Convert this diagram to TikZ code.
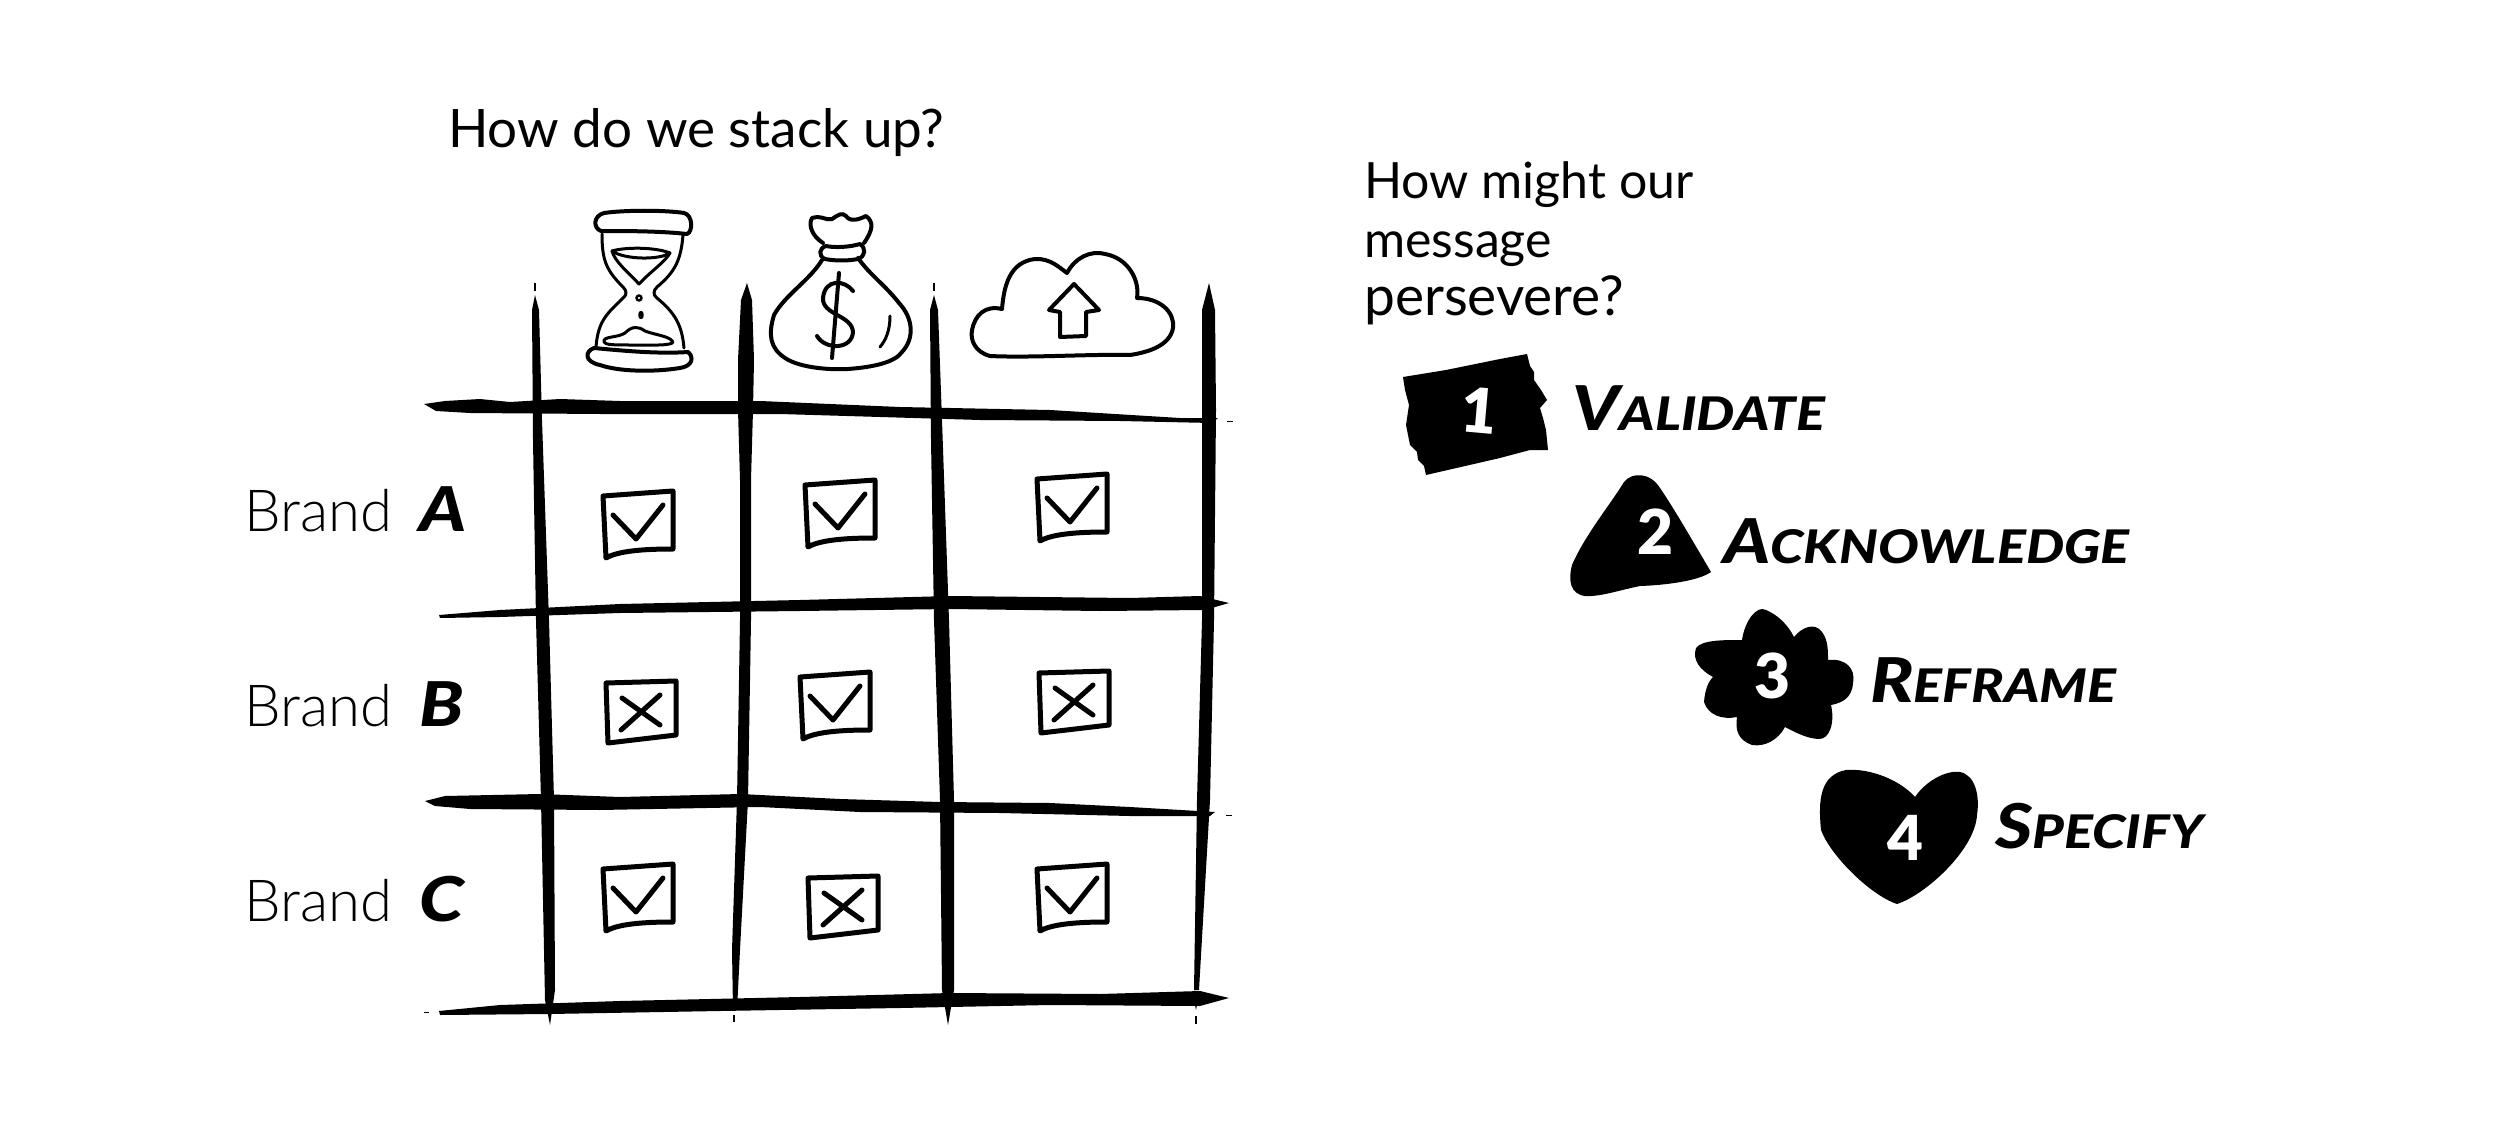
\documentclass[tikz,border=0pt]{standalone}
\usepackage{graphicx}
\usepackage{fontspec}
\setmainfont{Lato}
\newfontfamily\thinfont{Lato Light}
\newfontfamily\brushfont{Lato Black Italic}
\newfontfamily\numfont{Lato Black}
\newcommand{\brushcaps}[2]{\scalebox{1.2}[1.03]{\brushfont\fontsize{60}{60}\selectfont #1\fontsize{45}{45}\selectfont #2}}
\tikzset{
  ink/.style={fill=black,draw=none},
  iconline/.style={draw=black,line width=4pt,line cap=round,line join=round},
  boxline/.style={draw=black,line width=5pt,line cap=round,line join=round},
  heading/.style={anchor=base west,inner sep=0pt,font=\fontsize{50}{50}\selectfont},
  brandtext/.style={anchor=base west,inner sep=0pt,font=\thinfont\fontsize{58}{58}\selectfont},
  brushtext/.style={anchor=base west,inner sep=0pt},
  numtext/.style={text=white,inner sep=0pt,font=\numfont\fontsize{62}{62}\selectfont},
  tickbox/.pic={
    \draw[boxline] (0,5) -- (70,0) -- (70,58) .. controls (40,58) and (15,60) .. (3,67) -- cycle;
    \draw[boxline] (10,24) -- (33,48) -- (60,14);
  },
  crossbox/.pic={
    \draw[boxline] (0,2) -- (70,0) -- (70,54) -- (2,62) -- cycle;
    \draw[boxline] (15,49) -- (54,14) (16,17) -- (54,44);
  }
}
\begin{document}
\begin{tikzpicture}[x=1pt,y=-1pt]
\useasboundingbox (0,0) rectangle (2500,1126);
\fill[white] (0,0) rectangle (2500,1126);

% vertical brush lines
\fill[ink] (534,283) rectangle (536,291);
\fill[ink] (535,295) -- (539,310) -- (542,420) -- (549,620) -- (554,800) -- (555,990) -- (550,1025) -- (545,1000) -- (541,800) -- (536,620) -- (533,440) -- (532,310) -- cycle;
\fill[ink] (747,283) -- (752,300) -- (754,360) -- (753,410) -- (751,480) -- (751,620) -- (748,800) -- (740,950) -- (737,1010) -- (733,1010) -- (732,950) -- (737,800) -- (740,620) -- (740,480) -- (738,410) -- (738,360) -- (741,300) -- cycle;
\fill[ink] (733,1015) rectangle (735,1022);
\fill[ink] (933,283) rectangle (935,291);
\fill[ink] (934,295) -- (938,310) -- (942,420) -- (949,620) -- (954,800) -- (954,990) -- (948,1025) -- (942,990) -- (940,800) -- (934,620) -- (931,440) -- (930,310) -- cycle;
\fill[ink] (1209,283) -- (1215,310) -- (1216,410) -- (1214,620) -- (1210,800) -- (1199,990) -- (1194,990) -- (1197,800) -- (1202,620) -- (1202,410) -- (1202,310) -- cycle;
\fill[ink] (1195,990) -- (1198,1000) -- (1196,1010) -- (1194,1000) -- cycle;
\fill[ink] (1195,1016) rectangle (1197,1024);

% horizontal brush lines
\fill[ink] (424,404) -- (445,401) -- (480,399) -- (510,402) -- (560,399) -- (620,401) -- (760,401) -- (900,407) -- (1050,410) -- (1180,418) -- (1218,418) -- (1212,423) -- (1120,421) -- (980,420) -- (780,414) -- (600,414) -- (470,413) -- (436,411) -- cycle;
\fill[ink] (1227,421) rectangle (1233,422);
\fill[ink] (439,615) -- (500,610) -- (620,604) -- (800,600) -- (950,596) -- (1130,598) -- (1200,596) -- (1229,603) -- (1205,610) -- (1100,611) -- (950,609) -- (800,611) -- (620,613) -- (500,617) -- (440,618) -- cycle;
\fill[ink] (425,801) -- (445,796) -- (540,794) -- (620,797) -- (740,794) -- (840,799) -- (940,802) -- (1050,803) -- (1130,807) -- (1215,812) -- (1210,816) -- (1130,816) -- (1000,813) -- (860,812) -- (760,807) -- (600,810) -- (470,809) -- (435,806) -- cycle;
\fill[ink] (1226,815) rectangle (1232,816);
\fill[ink] (439,1011) -- (500,1005) -- (620,1001) -- (800,997) -- (950,993) -- (1100,994) -- (1200,991) -- (1229,998) -- (1200,1006) -- (1050,1005) -- (900,1008) -- (720,1011) -- (550,1014) -- (440,1015) -- cycle;
\fill[ink] (424,1012) rectangle (429,1013);

% hourglass
\draw[iconline] (604,213) .. controls (625,210) and (665,210) .. (684,213) .. controls (693,215) and (693,232) .. (687,234) .. controls (660,231) and (625,231) .. (601,231) .. controls (593,228) and (593,216) .. (604,213) -- cycle;
\draw[iconline] (594,348) .. controls (625,351) and (660,354) .. (688,352) .. controls (694,357) and (693,366) .. (680,368) .. controls (655,372) and (620,372) .. (600,365) .. controls (585,362) and (584,352) .. (594,348) -- cycle;
\draw[iconline,line width=3pt] (602,234) .. controls (602,260) and (606,270) .. (623,287) .. controls (627,291) and (627,295) .. (623,298) .. controls (608,313) and (598,320) .. (596,347);
\draw[iconline,line width=3pt] (683,235) .. controls (681,260) and (675,272) .. (657,287) .. controls (653,291) and (653,295) .. (657,298) .. controls (675,313) and (682,325) .. (684,348);
\draw[iconline,line width=3pt] (612,251) .. controls (625,247) and (655,247) .. (670,253) .. controls (660,260) and (625,260) .. (612,251) -- cycle;
\draw[iconline,line width=3pt] (612,251) .. controls (615,262) and (628,272) .. (639,284) .. controls (650,272) and (665,262) .. (670,253);
\draw[iconline,line width=2.5pt] (639,298) circle[x radius=2.5,y radius=2.5];
\draw[iconline,line width=2.5pt] (641,315) circle[x radius=1.5,y radius=3];
\draw[iconline,line width=3pt] (604,342) .. controls (602,336) and (618,338) .. (625,333) .. controls (632,326) and (638,326) .. (645,331) .. controls (655,335) and (670,336) .. (673,342) .. controls (672,346) and (650,345) .. (630,345) .. controls (615,345) and (605,345) .. (604,342) -- cycle;

% money bag
\draw[iconline] (823,243) .. controls (812,236) and (808,225) .. (812,218) .. controls (822,215) and (826,221) .. (832,219) .. controls (838,215) and (842,212) .. (846,216) .. controls (850,222) and (858,220) .. (866,216) .. controls (874,222) and (873,230) .. (864,243);
\draw[iconline] (826,246) .. controls (835,248) and (850,247) .. (860,244) .. controls (866,248) and (866,256) .. (858,259) .. controls (848,261) and (835,261) .. (825,259) .. controls (818,256) and (819,248) .. (826,246) -- cycle;
\draw[iconline] (822,260) .. controls (810,280) and (785,295) .. (774,315) .. controls (768,335) and (770,348) .. (785,358) .. controls (800,368) and (830,370) .. (848,369) .. controls (875,367) and (895,362) .. (902,352) .. controls (915,338) and (913,318) .. (899,303) .. controls (885,285) and (870,275) .. (858,258);
\draw[iconline] (853,291) .. controls (845,280) and (825,278) .. (823,298) .. controls (822,315) and (852,315) .. (853,332) .. controls (852,350) and (825,350) .. (817,336);
\draw[iconline] (839,273) -- (832,358);
\draw[iconline,line width=3pt] (890,316) .. controls (890,330) and (886,340) .. (880,347);

% cloud
\draw[iconline] (990,356) .. controls (975,352) and (970,340) .. (972,330) .. controls (975,315) and (985,305) .. (1002,309) .. controls (1004,285) and (1010,262) .. (1035,259) .. controls (1050,258) and (1060,268) .. (1067,273) .. controls (1075,258) and (1090,250) .. (1105,254) .. controls (1128,258) and (1140,280) .. (1137,298) .. controls (1160,298) and (1175,312) .. (1173,328) .. controls (1170,345) and (1150,352) .. (1130,355) .. controls (1090,354) and (1030,358) .. (990,356) -- cycle;
\draw[iconline] (1074,284) -- (1099,310) -- (1086,312) -- (1086,336) -- (1060,337) -- (1060,312) -- (1049,310) -- cycle;

% check boxes
\pic at (603,491) {tickbox};
\pic at (805,480) {tickbox};
\pic at (1037,474) {tickbox};
\pic at (606,681) {crossbox};
\pic at (800,672) {tickbox};
\pic at (1039,671) {crossbox};
\pic at (603,864) {tickbox};
\pic at (808,876) {crossbox};
\pic at (1037,864) {tickbox};

% blobs
\fill[ink] (1403,377) -- (1446,370) -- (1500,359) -- (1527,354) -- (1530,366) -- (1534,372) -- (1534,380) -- (1541,390) -- (1547,400) -- (1540,408) -- (1543,418) -- (1546,430) -- (1548,450) -- (1530,450) -- (1500,458) -- (1426,475) -- (1424,466) -- (1418,460) -- (1417,452) -- (1410,445) -- (1406,425) -- (1409,405) -- (1405,390) -- cycle;
\fill[ink] (1624,482) .. controls (1632,472) and (1650,472) .. (1660,488) .. controls (1675,510) and (1695,545) .. (1711,572) .. controls (1700,580) and (1670,585) .. (1640,586) .. controls (1620,590) and (1600,597) .. (1585,596) .. controls (1570,594) and (1568,580) .. (1572,565) .. controls (1585,535) and (1610,505) .. (1624,482) -- cycle;
\fill[ink] (1742,640) .. controls (1745,620) and (1757,605) .. (1766,610) .. controls (1778,615) and (1788,625) .. (1794,637) .. controls (1802,627) and (1815,622) .. (1822,632) .. controls (1828,640) and (1828,650) .. (1828,660) .. controls (1845,658) and (1856,668) .. (1853,683) .. controls (1852,698) and (1842,703) .. (1831,705) .. controls (1835,722) and (1830,740) .. (1818,739) .. controls (1805,738) and (1795,732) .. (1785,727) .. controls (1778,740) and (1765,747) .. (1752,745) .. controls (1738,740) and (1735,730) .. (1737,717) .. controls (1722,720) and (1708,715) .. (1704,702) .. controls (1705,690) and (1708,682) .. (1713,677) .. controls (1700,670) and (1692,660) .. (1696,648) .. controls (1702,640) and (1722,640) .. (1742,640) -- cycle;
\fill[ink] (1915,797) .. controls (1925,782) and (1945,770) .. (1960,772) .. controls (1975,775) and (1980,795) .. (1977,815) .. controls (1975,850) and (1925,895) .. (1897,904) .. controls (1870,895) and (1830,855) .. (1821,830) .. controls (1818,800) and (1820,775) .. (1846,770) .. controls (1870,768) and (1900,780) .. (1915,797) -- cycle;
\node[numtext,rotate=-5] (n1) at (1479,411) {1};
\node[numtext] (n2) at (1655,532) {2};
\node[numtext] (n3) at (1772,676) {3};
\node[numtext] (n4) at (1905,838) {4};

% texts
\node[heading,font=\fontsize{53}{53}\selectfont] (t1) at (448,148) {How do we stack up?};
\node[heading] (t2a) at (1364,199) {How might our};
\node[heading] (t2b) at (1364,258) {message};
\node[heading,font=\fontsize{55}{55}\selectfont] (t2c) at (1364,315) {persevere?};
\node[brandtext] (ba) at (244,531) {Brand};
\node[brandtext] (bb) at (244,726) {Brand};
\node[brandtext] (bc) at (244,921) {Brand};
\node[brushtext] (la) at (419,531) {\brushcaps{A}{}};
\node[brushtext] (lb) at (419,726) {\brushcaps{B}{}};
\node[brushtext] (lc) at (419,921) {\brushcaps{C}{}};
\node[brushtext] (s1) at (1572,430) {\brushcaps{V}{ALIDATE}};
\node[brushtext] (s2) at (1723,563) {\brushcaps{A}{CKNOWLEDGE}};
\node[brushtext] (s3) at (1870,702) {\brushcaps{R}{EFRAME}};
\node[brushtext] (s4) at (1995,848) {\brushcaps{S}{PECIFY}};
\end{tikzpicture}
\end{document}
